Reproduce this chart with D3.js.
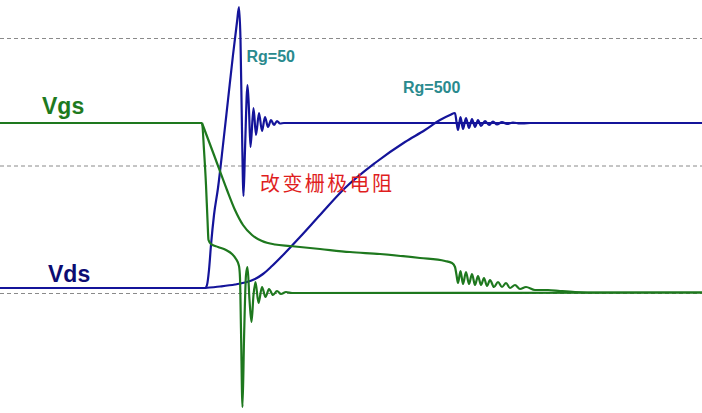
<!DOCTYPE html>
<html>
<head>
<meta charset="utf-8">
<script src="https://cdn.jsdelivr.net/npm/d3@7/dist/d3.min.js"></script>
<style>
html,body{margin:0;padding:0;background:#fff;}
svg{display:block;}
</style>
</head>
<body>
<svg id="chart" width="702" height="413"></svg>
<script>
// time in ns, voltage in V
const gridLevels = [0, 12.75, 25.5];

const vgsRg50 = [
  [0,17.0],[20.2,17.0],[20.4,14.3],[20.6,10.8],[20.75,7.3],[20.85,5.3],[21.1,4.9],[21.8,4.6],
  [22.6,4.3],[23.2,3.9],[23.6,3.4],[23.9,2.7],[24.0,1.5],[24.1,-3.7],[24.25,-11.4],[24.4,-4.7],
  [24.6,1.8],[24.75,2.6],[24.95,-0.7],[25.15,-2.9],[25.35,-0.2],[25.55,1.1],[25.85,-1.0],
  [26.2,0.6],[26.55,-0.4],[26.9,0.4],[27.3,-0.2],[27.7,0.2],[28.1,-0.1],[28.6,0.1],[29.2,0.0],[70.2,0.05]
];

const vgsRg500 = [
  [20.2,17.0],[21.4,13.8],[22.7,10.3],[23.5,8.3],[24.3,6.8],[25.2,5.8],[26.2,5.2],[27.5,4.85],
  [29.0,4.7],[32.0,4.4],[35.0,4.1],[38.0,3.9],[42.0,3.5],[44.5,3.2],[45.2,3.0],[45.5,2.6],
  [45.65,1.8],[45.8,1.0],[46.05,2.2],[46.3,0.9],[46.6,2.1],[46.9,0.9],[47.2,1.9],[47.5,0.8],
  [47.8,1.7],[48.1,0.8],[48.4,1.5],[48.7,0.7],[49.0,1.3],[49.4,0.6],[49.8,1.1],[50.2,0.6],
  [50.6,1.0],[51.0,0.5],[51.5,0.8],[52.0,0.4],[52.6,0.6],[53.5,0.3],[54.8,0.3],[56.0,0.2],
  [57.5,0.1],[60.0,0.05],[70.2,0.05]
];

const vdsRg50 = [
  [0,0.5],[20.5,0.5],[20.7,0.8],[20.9,2.3],[21.1,4.8],[21.4,7.8],[21.8,10.5],[22.3,14.8],
  [22.8,19.3],[23.3,23.8],[23.7,27.1],[23.9,28.6],[24.05,25.3],[24.2,16.3],[24.35,9.7],
  [24.5,14.3],[24.75,20.8],[24.9,18.3],[25.05,14.6],[25.35,18.5],[25.6,15.8],[25.9,18.0],
  [26.2,16.2],[26.5,17.6],[26.8,16.6],[27.1,17.3],[27.4,16.8],[27.7,17.2],[28.0,16.95],
  [28.4,17.0],[70.2,17.0]
];

const vdsRg500 = [
  [20.5,0.5],[22.0,0.65],[23.5,0.85],[24.5,1.05],[25.5,1.4],[26.3,1.9],[27.2,2.7],[28.5,4.0],
  [30.0,5.6],[32.0,7.8],[34.5,10.5],[37.5,13.0],[40.5,15.1],[42.5,16.3],[44.0,17.3],[45.0,17.8],
  [45.5,18.0],[45.65,17.1],[45.8,16.3],[46.05,17.6],[46.3,16.4],[46.6,17.5],[46.9,16.5],
  [47.2,17.4],[47.5,16.6],[47.8,17.3],[48.1,16.7],[48.5,17.2],[48.9,16.8],[49.3,17.15],
  [49.7,16.85],[50.2,17.1],[50.7,16.9],[51.3,17.05],[52.0,16.95],[53.0,17.0]
];

const labels = [
  {text:"Vgs", t:4.2, v:17.9, color:"#1e7a1e", size:23, weight:"bold", family:"Arial, 'Liberation Sans', sans-serif"},
  {text:"Vds", t:4.8, v:1.1, color:"#0c0c72", size:23, weight:"bold", family:"Arial, 'Liberation Sans', sans-serif"},
  {text:"Rg=50", t:24.65, v:23.1, color:"#2a8a8e", size:16, weight:"bold", family:"Arial, 'Liberation Sans', sans-serif"},
  {text:"Rg=500", t:40.3, v:20.0, color:"#2a8a8e", size:16, weight:"bold", family:"Arial, 'Liberation Sans', sans-serif"},
  {text:"改变栅极电阻", t:26.0, v:10.2, color:"#e01e1e", size:20, weight:"normal", family:"'Noto Sans CJK SC', sans-serif", spacing:2.4}
];

const W = 702, H = 413;
const x = d3.scaleLinear().domain([0, 70.2]).range([0, W]);
const y = d3.scaleLinear().domain([0, 25.5]).range([293, 38]);

const svg = d3.select("#chart");

svg.append("g").selectAll("line").data(gridLevels).join("line")
  .attr("x1", 0).attr("x2", W)
  .attr("y1", d => y(d) + 0.5).attr("y2", d => y(d) + 0.5)
  .attr("stroke", "#8a8a8a").attr("stroke-width", 1)
  .attr("stroke-dasharray", "4,3");

const line = d3.line().x(d => x(d[0])).y(d => y(d[1])).curve(d3.curveMonotoneX);

const series = [
  {data: vdsRg500, color:"#14149a"},
  {data: vdsRg50, color:"#14149a"},
  {data: vgsRg500, color:"#1e781e"},
  {data: vgsRg50, color:"#1e781e"}
];

svg.append("g").selectAll("path").data(series).join("path")
  .attr("d", d => line(d.data))
  .attr("fill", "none")
  .attr("stroke", d => d.color)
  .attr("stroke-width", 2.2)
  .attr("stroke-linejoin", "round");

svg.append("g").selectAll("text").data(labels).join("text")
  .attr("x", d => x(d.t)).attr("y", d => y(d.v))
  .attr("fill", d => d.color)
  .attr("font-size", d => d.size)
  .attr("font-weight", d => d.weight)
  .attr("font-family", d => d.family)
  .attr("letter-spacing", d => d.spacing || 0)
  .text(d => d.text);
</script>
</body>
</html>
